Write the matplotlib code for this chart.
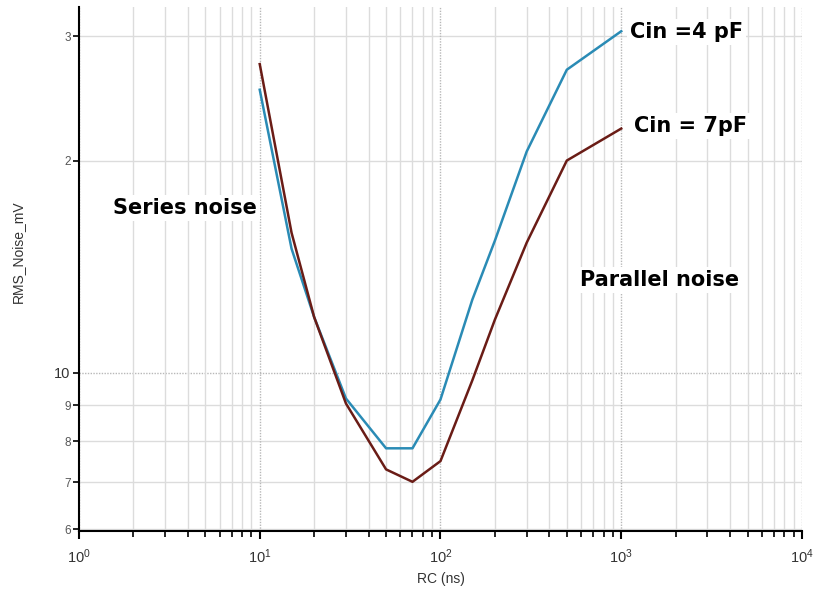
import numpy as np
import matplotlib.pyplot as plt
from matplotlib.ticker import FixedLocator, FixedFormatter, LogLocator, NullFormatter

# RC time constant (ns)
rc = [10, 15, 20, 30, 50, 70, 100, 150, 200, 300, 500, 1000]
# RMS noise (mV)
noise_4pf = [25.2, 15.0, 12.0, 9.2, 7.82, 7.82, 9.17, 12.7, 15.4, 20.6, 26.9, 30.5]
noise_7pf = [27.4, 15.8, 12.0, 9.05, 7.3, 7.01, 7.5, 9.76, 11.9, 15.3, 20.0, 22.2]

ytick_vals = [6, 7, 8, 9, 10, 20, 30]
ytick_lbls = ['6', '7', '8', '9', '10', '2', '3']

plt.rcParams['font.family'] = ['Liberation Sans', 'DejaVu Sans']

fig = plt.figure(figsize=(8.16, 5.92), dpi=100)
ax = fig.add_axes([0.0968, 0.103, 0.886, 0.885])

ax.set_xscale('log')
ax.set_yscale('log')
ax.set_xlim(1, 1e4)
ax.set_ylim(5.97, 33)

# grid
ax.xaxis.set_minor_locator(LogLocator(base=10, subs=np.arange(2, 10)))
ax.xaxis.set_minor_formatter(NullFormatter())
ax.grid(True, which='minor', axis='x', color='#dcdcdc', lw=1.0)
ax.grid(True, which='major', axis='x', color='#b8b8b8', lw=1.0, ls=(0, (1, 1)))
for v in ytick_vals:
    if v == 10:
        ax.axhline(v, color='#b8b8b8', lw=1.0, ls=(0, (1, 1)), zorder=0)
    else:
        ax.axhline(v, color='#dcdcdc', lw=1.0, zorder=0)

ax.plot(rc, noise_4pf, color='#2a8bb5', lw=1.8)
ax.plot(rc, noise_7pf, color='#6a1c16', lw=1.8)

ax.yaxis.set_major_locator(FixedLocator(ytick_vals))
ax.yaxis.set_major_formatter(FixedFormatter(ytick_lbls))
ax.yaxis.set_minor_locator(FixedLocator([]))
ax.yaxis.set_minor_formatter(NullFormatter())
for lbl, v in zip(ax.get_yticklabels(), ytick_vals):
    lbl.set_fontsize(10.5 if v == 10 else 8.5)
    lbl.set_color('#333333' if v == 10 else '#555555')

ax.tick_params(axis='x', which='major', length=6, width=1.5, labelsize=10.5,
               labelcolor='#333333', pad=6)
ax.tick_params(axis='x', which='minor', length=4, width=1.2)
ax.tick_params(axis='y', which='major', length=4, width=1.2, pad=2)

for s in ['top', 'right']:
    ax.spines[s].set_visible(False)
for s in ['left', 'bottom']:
    ax.spines[s].set_linewidth(1.5)

ax.set_xlabel('RC (ns)', fontsize=10, color='#333333', labelpad=4)
ax.set_ylabel('RMS_Noise_mV', fontsize=10, color='#333333', labelpad=22)
ax.yaxis.set_label_coords(-0.075, 0.534)

# annotations, positioned in pixels from the top-left corner
box = dict(facecolor='white', edgecolor='none', pad=2)
txt = dict(fontsize=15, fontweight='bold', family='DejaVu Sans', va='center',
           bbox=box, transform=fig.transFigure)
ax.text(113 / 816, 1 - 208 / 592, 'Series noise', **txt)
ax.text(580 / 816, 1 - 280 / 592, 'Parallel noise', **txt)
ax.text(630 / 816, 1 - 32 / 592, 'Cin =4 pF', **txt)
ax.text(634 / 816, 1 - 126 / 592, 'Cin = 7pF', **txt)

fig.savefig('out.png', dpi=100)
